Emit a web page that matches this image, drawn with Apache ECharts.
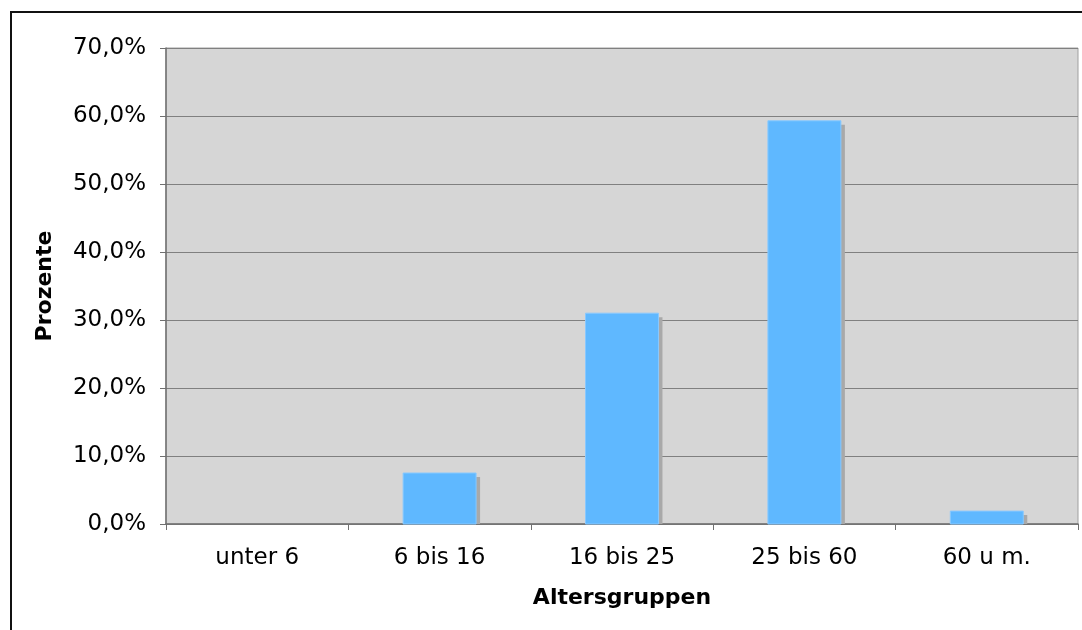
<!DOCTYPE html>
<html>
<head>
<meta charset="utf-8">
<script src="https://cdn.jsdelivr.net/npm/echarts@6/dist/echarts.min.js"></script>
<style>
html,body{margin:0;padding:0;background:#fff;}
#main{width:1082px;height:630px;}
</style>
</head>
<body>
<div id="main"></div>
<script>
var categories = ['unter 6', '6 bis 16', '16 bis 25', '25 bis 60', '60 u m.'];
var percentValues = [0, 7.5, 31.0, 59.3, 1.9];
var yTicks = [0, 10, 20, 30, 40, 50, 60, 70];
var xAxisTitle = 'Altersgruppen';
var yAxisTitle = 'Prozente';

var FONT = 'Verdana, "DejaVu Sans", sans-serif';
var chart = echarts.init(document.getElementById('main'));

function fmtPct(v) {
  return v.toFixed(1).replace('.', ',') + '%';
}

var option = {
  animation: false,
  backgroundColor: '#ffffff',
  graphic: [{
    type: 'rect',
    shape: { x: 11, y: 12, width: 2000, height: 2000 },
    style: { fill: 'none', stroke: '#111', lineWidth: 2 },
    z: 100
  }],
  grid: {
    left: 166, right: 4, top: 48, bottom: 106,
    show: true,
    backgroundColor: '#d6d6d6',
    borderColor: '#a0a0a0',
    borderWidth: 1
  },
  xAxis: {
    type: 'category',
    data: categories,
    boundaryGap: true,
    name: xAxisTitle,
    nameLocation: 'middle',
    nameGap: 63,
    nameTextStyle: { fontFamily: FONT, fontSize: 22, fontWeight: 'bold', color: '#000' },
    axisLine: { lineStyle: { color: '#707070', width: 1.5 } },
    axisTick: { show: true, length: 6, lineStyle: { color: '#707070' } },
    axisLabel: { fontFamily: FONT, fontSize: 23, color: '#000', margin: 23, interval: 0 },
    splitLine: { show: false }
  },
  yAxis: {
    type: 'value',
    min: yTicks[0], max: yTicks[yTicks.length - 1], interval: yTicks[1] - yTicks[0],
    name: yAxisTitle,
    nameLocation: 'middle',
    nameGap: 110,
    nameTextStyle: { fontFamily: FONT, fontSize: 22, fontWeight: 'bold', color: '#000' },
    axisLine: { show: true, lineStyle: { color: '#707070', width: 1.5 } },
    axisTick: { show: true, length: 6, lineStyle: { color: '#707070' } },
    axisLabel: { fontFamily: FONT, fontSize: 23, color: '#000', margin: 20, formatter: fmtPct },
    splitLine: { show: true, lineStyle: { color: '#808080', width: 1 } }
  },
  series: [{
    type: 'custom',
    data: percentValues.map(function (v, i) { return [i, v]; }),
    encode: { x: 0, y: 1 },
    renderItem: function (params, api) {
      var v = api.value(1);
      if (!v) return { type: 'group', children: [] };
      var top = api.coord([api.value(0), v]);
      var base = api.coord([api.value(0), 0]);
      var band = api.size([1, 0])[0];
      var w = band * 0.4;
      var x = top[0] - w / 2;
      var h = base[1] - top[1];
      return {
        type: 'group',
        children: [
          { type: 'rect', shape: { x: x + 4, y: top[1] + 4, width: w, height: Math.max(h - 4, 0) },
            style: { fill: '#a9a9a9' } },
          { type: 'rect', shape: { x: x, y: top[1], width: w, height: h },
            style: { fill: '#5fb8ff', stroke: '#88c9ff', lineWidth: 1 } }
        ]
      };
    }
  }]
};
chart.setOption(option);
</script>
</body>
</html>
